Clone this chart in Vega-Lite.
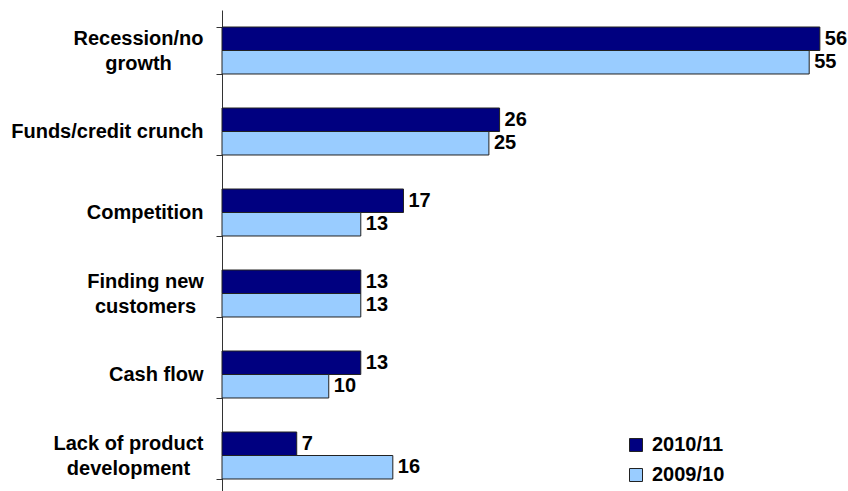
{
  "$schema": "https://vega.github.io/schema/vega-lite/v6.json",
  "width": 600,
  "height": 481,
  "autosize": "none",
  "padding": {"left": 222, "top": 10, "right": 26, "bottom": 0},
  "background": "white",
  "data": {
    "values": [
      {"cat": "Recession/no growth", "year": "2010/11", "value": 56},
      {"cat": "Recession/no growth", "year": "2009/10", "value": 55},
      {"cat": "Funds/credit crunch", "year": "2010/11", "value": 26},
      {"cat": "Funds/credit crunch", "year": "2009/10", "value": 25},
      {"cat": "Competition", "year": "2010/11", "value": 17},
      {"cat": "Competition", "year": "2009/10", "value": 13},
      {"cat": "Finding new customers", "year": "2010/11", "value": 13},
      {"cat": "Finding new customers", "year": "2009/10", "value": 13},
      {"cat": "Cash flow", "year": "2010/11", "value": 13},
      {"cat": "Cash flow", "year": "2009/10", "value": 10},
      {"cat": "Lack of product development", "year": "2010/11", "value": 7},
      {"cat": "Lack of product development", "year": "2009/10", "value": 16}
    ]
  },
  "encoding": {
    "y": {
      "field": "cat",
      "type": "nominal",
      "sort": ["Recession/no growth", "Funds/credit crunch", "Competition", "Finding new customers", "Cash flow", "Lack of product development"],
      "scale": {"paddingInner": 0.42, "paddingOuter": 0.21, "range": [0, 486]},
      "axis": {
        "title": null,
        "domainColor": "#333333",
        "tickColor": "#333333",
        "tickSize": 6,
        "tickBand": "extent",
        "labelFont": "Liberation Sans",
        "labelFontSize": 20,
        "labelFontWeight": "bold",
        "labelColor": "black",
        "labelLimit": 260,
        "labelLineHeight": 25,
        "labelAlign": {
          "condition": {"test": "indexof(['Recession/no growth', 'Finding new customers', 'Lack of product development'], datum.value) >= 0", "value": "center"},
          "value": "right"
        },
        "labelPadding": {
          "condition": [
            {"test": "datum.value == 'Recession/no growth'", "value": 78},
            {"test": "datum.value == 'Finding new customers'", "value": 71},
            {"test": "datum.value == 'Lack of product development'", "value": 88}
          ],
          "value": 13
        },
        "labelOffset": {
          "condition": {"test": "indexof(['Recession/no growth', 'Finding new customers', 'Lack of product development'], datum.value) >= 0", "value": -12.5},
          "value": 0
        },
        "labelExpr": "datum.value == 'Recession/no growth' ? ['Recession/no', 'growth'] : datum.value == 'Finding new customers' ? ['Finding new', 'customers'] : datum.value == 'Lack of product development' ? ['Lack of product', 'development'] : datum.value"
      }
    },
    "yOffset": {"field": "year", "type": "nominal", "sort": ["2010/11", "2009/10"]},
    "x": {"field": "value", "type": "quantitative", "scale": {"domain": [0, 56.2]}, "axis": null}
  },
  "layer": [
    {
      "mark": {"type": "bar", "stroke": "#222222", "strokeWidth": 1, "clip": false},
      "encoding": {
        "color": {
          "field": "year",
          "type": "nominal",
          "sort": ["2010/11", "2009/10"],
          "scale": {"domain": ["2010/11", "2009/10"], "range": ["#000080", "#99CCFF"]},
          "legend": {
            "title": null,
            "orient": "none",
            "legendX": 404,
            "legendY": 425,
            "symbolType": "square",
            "symbolSize": 169,
            "symbolStrokeColor": "#222222",
            "symbolStrokeWidth": 1,
            "labelFont": "Liberation Sans",
            "labelFontSize": 20,
            "labelFontWeight": "bold",
            "labelColor": "black",
            "labelOffset": 6,
            "rowPadding": 10
          }
        }
      }
    },
    {
      "mark": {"type": "text", "align": "left", "baseline": "middle", "dx": 5, "font": "Liberation Sans", "fontSize": 20, "fontWeight": "bold", "color": "black", "clip": false},
      "encoding": {"text": {"field": "value", "type": "quantitative"}}
    }
  ],
  "config": {"view": {"stroke": null}}
}
